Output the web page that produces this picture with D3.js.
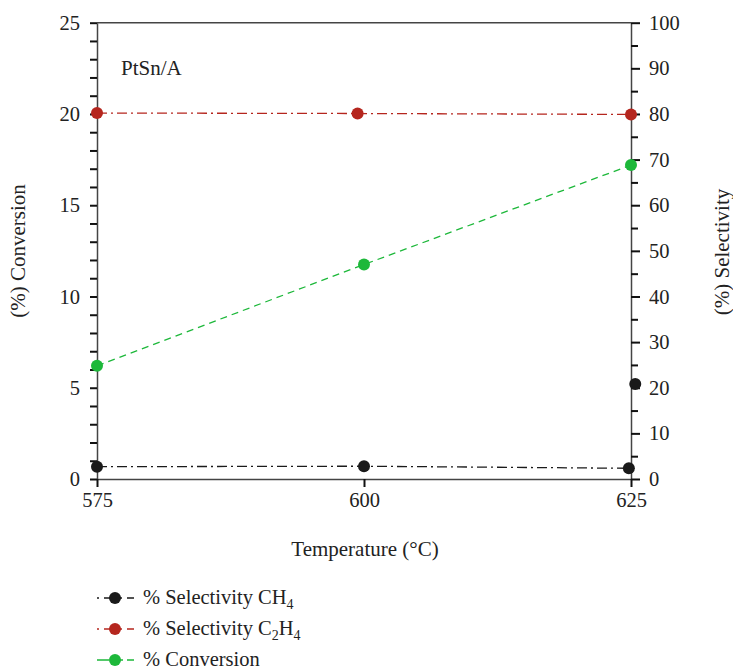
<!DOCTYPE html>
<html>
<head>
<meta charset="utf-8">
<script src="https://cdn.jsdelivr.net/npm/d3@7"></script>
<style>
  html, body { margin: 0; padding: 0; background: #fff; }
  svg { display: block; }
  text { font-family: "Liberation Serif", "DejaVu Serif", serif; fill: #222; }
</style>
</head>
<body>
<svg id="chart" width="733" height="669"></svg>
<script>
// ---- data ----
const xTickValues = [575, 600, 625];
const convTicks = [0, 5, 10, 15, 20, 25];
const selTicks = [0, 10, 20, 30, 40, 50, 60, 70, 80, 90, 100];

const tempCH4 = [575, 600, 624.8];
const selCH4 = [2.7, 2.8, 2.35];
const extraCH4Temp = [625.4];
const extraCH4Sel = [20.8];

const tempC2H4 = [575, 599.4, 625];
const selC2H4 = [80.2, 80.1, 79.9];

const tempConv = [575, 600, 625];
const conversion = [6.2, 11.75, 17.2];

const title = "PtSn/A";

// ---- layout ----
const svg = d3.select("#chart");
const pLeft = 97, pRight = 631, pTop = 22.7, pBottom = 479;
const x = d3.scaleLinear().domain([575, 625]).range([pLeft, pRight]);
const yL = d3.scaleLinear().domain([0, 25]).range([pBottom, pTop]);
const yR = d3.scaleLinear().domain([0, 100]).range([pBottom, pTop]);

const black = "#1a1a1a", red = "#b5261e", green = "#1db83a";
const fontSize = 20.5;

// top frame line
svg.append("line").attr("x1", pLeft).attr("x2", pRight).attr("y1", pTop).attr("y2", pTop)
  .attr("stroke", "#444").attr("stroke-width", 1.5);

// left axis
const gL = svg.append("g").attr("transform", `translate(${pLeft},0)`)
  .call(d3.axisLeft(yL).tickValues(d3.range(0, 26, 1)).tickSize(7).tickSizeOuter(0)
    .tickFormat(d => d % 5 === 0 ? d : ""));
// right axis
const gR = svg.append("g").attr("transform", `translate(${pRight},0)`)
  .call(d3.axisRight(yR).tickValues(d3.range(0, 101, 5)).tickSizeOuter(0)
    .tickFormat(d => d % 10 === 0 ? d : ""));
gR.selectAll(".tick line").attr("x2", d => d % 10 === 0 ? 9 : 7);
// bottom axis
const gB = svg.append("g").attr("transform", `translate(0,${pBottom})`)
  .call(d3.axisBottom(x).tickValues(xTickValues).tickSize(8).tickSizeOuter(0));

[gL, gR, gB].forEach(g => {
  g.select(".domain").attr("stroke", "#444").attr("stroke-width", 1.5);
  g.selectAll(".tick line").attr("stroke", "#111").attr("stroke-width", 2);
  g.selectAll(".tick text").attr("font-family", "Liberation Serif, serif")
    .attr("font-size", fontSize).attr("fill", "#222");
});
gL.selectAll(".tick text").attr("x", -17);
gR.selectAll(".tick text").attr("x", 18);
gB.selectAll(".tick text").attr("y", 13);

// axis titles
svg.append("text").attr("transform", `translate(25,251) rotate(-90)`)
  .attr("text-anchor", "middle").attr("font-size", 21).text("(%) Conversion");
svg.append("text").attr("transform", `translate(729,252) rotate(-90)`)
  .attr("text-anchor", "middle").attr("font-size", 21).text("(%) Selectivity");
svg.append("text").attr("x", 365).attr("y", 556)
  .attr("text-anchor", "middle").attr("font-size", 21).text("Temperature (°C)");

svg.append("text").attr("x", 121).attr("y", 75).attr("font-size", 21).text(title);

// series
const dashDot = "10,4,2,4";
const dashed = "7,5";

function drawSeries(xs, ys, yScale, color, dash) {
  const pts = xs.map((t, i) => [t, ys[i]]);
  svg.append("path").datum(pts)
    .attr("d", d3.line().x(d => x(d[0])).y(d => yScale(d[1])))
    .attr("fill", "none").attr("stroke", color).attr("stroke-width", 1.3)
    .attr("stroke-dasharray", dash);
  svg.append("g").selectAll("circle").data(pts).join("circle")
    .attr("cx", d => x(d[0])).attr("cy", d => yScale(d[1])).attr("r", 6)
    .attr("fill", color);
}

drawSeries(tempCH4, selCH4, yR, black, dashDot);
svg.append("g").selectAll("circle").data(extraCH4Temp.map((t, i) => [t, extraCH4Sel[i]]))
  .join("circle").attr("cx", d => x(d[0])).attr("cy", d => yR(d[1])).attr("r", 6).attr("fill", black);
drawSeries(tempC2H4, selC2H4, yR, red, dashDot);
drawSeries(tempConv, conversion, yL, green, dashed);

// legend
const legendItems = [
  { color: black, dash: "2,5,12,4", label: ["% Selectivity CH", "4", ""] },
  { color: red, dash: "2,5,12,4", label: ["% Selectivity C", "2", "H", "4"] },
  { color: green, dash: "12,6,8,4", label: ["% Conversion"] }
];
legendItems.forEach((it, i) => {
  const cy = 598 + i * 31;
  svg.append("line").attr("x1", 97).attr("x2", 134).attr("y1", cy).attr("y2", cy)
    .attr("stroke", it.color).attr("stroke-width", 1.5).attr("stroke-dasharray", it.dash);
  svg.append("circle").attr("cx", 115).attr("cy", cy).attr("r", 6).attr("fill", it.color);
  const t = svg.append("text").attr("x", 143).attr("y", cy + 6).attr("font-size", 20.5);
  it.label.forEach((s, j) => {
    if (!s) return;
    const sp = t.append("tspan").text(s);
    if (j % 2 === 1) sp.attr("font-size", 14).attr("dy", 5);
    else if (j > 0) sp.attr("dy", -5);
  });
});
</script>
</body>
</html>
